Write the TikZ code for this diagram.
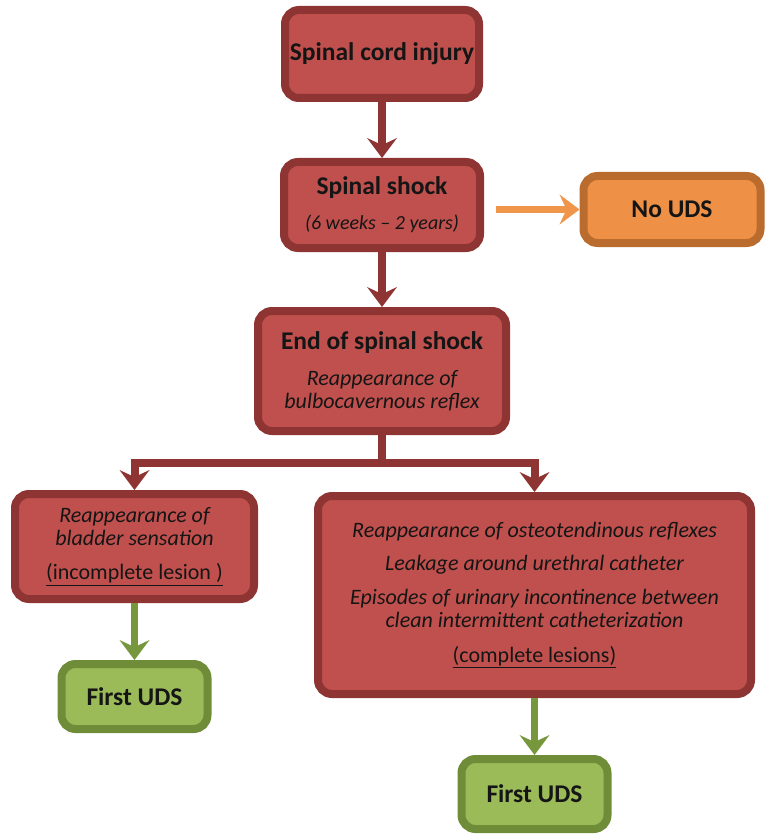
\documentclass[tikz,border=0pt]{standalone}
\usepackage{fontspec}
\setmainfont{Carlito}
\usetikzlibrary{arrows.meta,shadows}
\definecolor{redfill}{HTML}{C0504D}
\definecolor{redline}{HTML}{8E3533}
\definecolor{orfill}{HTML}{EE9046}
\definecolor{orline}{HTML}{B96C2E}
\definecolor{orarrow}{HTML}{F0964A}
\definecolor{grfill}{HTML}{9BBB59}
\definecolor{grline}{HTML}{6F8D38}
\definecolor{grarrow}{HTML}{77973D}
\definecolor{txt}{HTML}{151515}
\begin{document}
\begin{tikzpicture}[x=1pt,y=-1pt,
  box/.style={rounded corners=14pt, line width=8pt, align=center, text=txt, inner sep=0pt,
    font=\fontsize{22}{23}\selectfont,
    drop shadow={shadow xshift=3pt, shadow yshift=-3pt, opacity=0.22, fill=black}},
  redbox/.style={box, draw=redline, fill=redfill},
  orbox/.style={box, draw=orline, fill=orfill},
  grbox/.style={box, draw=grline, fill=grfill},
  arr/.style={line width=8pt, -{Stealth[length=20pt,width=30pt,inset=7pt,line width=0pt]}},
  redarr/.style={arr, draw=redline},
  orarr/.style={arr, line width=7pt, draw=orarrow},
  grarr/.style={arr, line width=7pt, draw=grarrow}]
\useasboundingbox (0,0) rectangle (768,834);
\newcommand{\ttlf}{\fontsize{25.5}{28}\selectfont\bfseries}
\newcommand{\itf}{\itshape}

\node[redbox, minimum width=194pt, minimum height=88pt] (sci) at (382,54) {\ttlf Spinal cord injury};
\node[redbox, minimum width=196pt, minimum height=86pt] (shock) at (382,205)
  {{\ttlf Spinal shock}\\[12pt]{\fontsize{20}{22}\selectfont\itf (6 weeks -- 2 years)}};
\node[orbox, minimum width=177pt, minimum height=67pt] (nouds) at (672,209.5) {\ttlf No UDS};
\node[redbox, minimum width=248pt, minimum height=120pt] (end) at (382,371)
  {{\ttlf End of spinal shock}\\[13pt]{\itf Reappearance of}\\{\itf bulbocavernous reflex}};
\node[redbox, minimum width=239pt, minimum height=105pt] (left) at (134.5,546.5)
  {{\itf Reappearance of}\\{\itf bladder sensation}\\[11pt]\underline{(incomplete lesion )}};
\node[redbox, minimum width=433pt, minimum height=198pt] (right) at (534.5,595)
  {{\itf Reappearance of osteotendinous reflexes}\\[10pt]{\itf Leakage around urethral catheter}\\[11pt]{\itf Episodes of urinary incontinence between}\\{\itf clean intermittent catheterization}\\[12pt]\underline{(complete lesions)}};
\node[grbox, minimum width=146pt, minimum height=65pt] (uds1) at (134.5,696.5) {\ttlf First UDS};
\node[grbox, minimum width=146pt, minimum height=70pt] (uds2) at (534.5,794) {\ttlf First UDS};

\coordinate (jn) at (382,463);
\draw[redarr] (sci.south) -- (shock.north);
\draw[orarr] ([xshift=12pt]shock.east |- nouds.west) -- (nouds.west);
\draw[redarr] (shock.south) -- (end.north);
\draw[redarr] (end.south) -- (jn) -| (left.north);
\draw[redarr] (jn) -| (right.north);
\draw[grarr] (left.south) -- (uds1.north);
\draw[grarr] (right.south) -- (uds2.north);
\end{tikzpicture}
\end{document}
